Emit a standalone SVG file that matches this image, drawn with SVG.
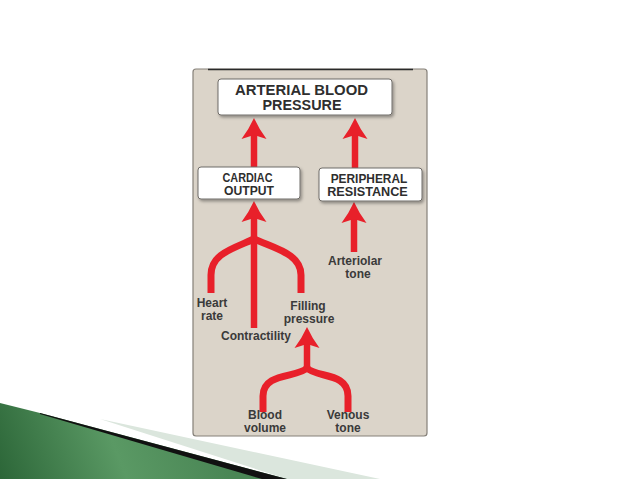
<svg xmlns="http://www.w3.org/2000/svg" width="638" height="479" viewBox="0 0 638 479">
<defs>
<style>
.box{fill:#ffffff;stroke:#6f6c68;stroke-width:1;filter:url(#sh)}
.bt{font-family:"Liberation Sans",Arial,sans-serif;font-weight:bold;fill:#2e2e2e;text-anchor:middle}
.lb{font-family:"Liberation Sans",Arial,sans-serif;font-weight:bold;font-size:12px;fill:#3a3a3a;text-anchor:middle}
.sh{stroke:#e8202a;stroke-width:6.5;fill:none}
.br{stroke:#e8202a;stroke-width:7;fill:none}
</style>
<filter id="sh" x="-10%" y="-20%" width="130%" height="160%">
<feDropShadow dx="1.5" dy="2" stdDeviation="1.5" flood-color="#000" flood-opacity="0.35"/>
</filter>
<marker id="ah" markerUnits="userSpaceOnUse" markerWidth="21" markerHeight="26" viewBox="0 -13 21 26" refX="4" refY="0" orient="auto">
<path d="M21,0 Q10,-5 0,-12.5 L4,0 L0,12.5 Q10,5 21,0Z" fill="#e8202a"/>
</marker>
<linearGradient id="gr" x1="0" y1="479" x2="200" y2="400" gradientUnits="userSpaceOnUse">
<stop offset="0" stop-color="#2c6638"/>
<stop offset="0.55" stop-color="#5a9964"/>
<stop offset="1" stop-color="#4a8655"/>
</linearGradient>
</defs>
<rect width="638" height="479" fill="#ffffff"/>
<g id="decoration">
<polygon points="100,419 380,479 287,479" fill="#dbe6dd"/>
<polygon points="0,403 40,413 287,479 0,479" fill="url(#gr)"/>
<polygon points="40,413 287,479 262,479 40,414" fill="#111111"/>
</g>
<g id="panel">
<rect x="193" y="69" width="234" height="367" rx="3" fill="#dbd4c9" stroke="#858079" stroke-width="1.2"/>
<line x1="208" y1="69.5" x2="413" y2="69.5" stroke="#2a2a2a" stroke-width="1.6"/>
</g>
<g id="connectors">
<line class="sh" x1="254" y1="167" x2="254" y2="135" marker-end="url(#ah)"/>
<line class="sh" x1="355" y1="168" x2="355" y2="135" marker-end="url(#ah)"/>
<line class="sh" x1="254" y1="328" x2="254" y2="218" marker-end="url(#ah)"/>
<path class="br" d="M254,239 C232,249 211,254 211,275 V293"/>
<path class="br" d="M254,239 C276,249 301,254 301,275 V293"/>
<line class="sh" x1="354" y1="252" x2="354" y2="219" marker-end="url(#ah)"/>
<line class="sh" x1="307" y1="372" x2="307" y2="344" marker-end="url(#ah)"/>
<path class="br" d="M307,368 C298,378 263,372 263,396 V412"/>
<path class="br" d="M307,368 C316,378 348,372 348,396 V412"/>
</g>
<g id="arterial-blood-pressure">
<rect class="box" x="218" y="79" width="174" height="36" rx="3"/>
<text class="bt" font-size="14.5" x="301.5" y="94.5" textLength="133" lengthAdjust="spacingAndGlyphs">ARTERIAL BLOOD</text>
<text class="bt" font-size="14.5" x="302" y="110" textLength="79" lengthAdjust="spacingAndGlyphs">PRESSURE</text>
</g>
<g id="cardiac-output">
<rect class="box" x="198" y="167" width="102" height="32" rx="3"/>
<text class="bt" font-size="12" x="247.5" y="181.5" textLength="50" lengthAdjust="spacingAndGlyphs">CARDIAC</text>
<text class="bt" font-size="12" x="249" y="194.5" textLength="50" lengthAdjust="spacingAndGlyphs">OUTPUT</text>
</g>
<g id="peripheral-resistance">
<rect class="box" x="319" y="168" width="103" height="33" rx="3"/>
<text class="bt" font-size="12" x="369" y="183" textLength="76.6" lengthAdjust="spacingAndGlyphs">PERIPHERAL</text>
<text class="bt" font-size="12" x="367.5" y="196" textLength="80.6" lengthAdjust="spacingAndGlyphs">RESISTANCE</text>
</g>
<g id="heart-rate">
<text class="lb" x="212" y="307">Heart</text>
<text class="lb" x="212" y="320">rate</text>
</g>
<g id="contractility">
<text class="lb" x="256" y="340">Contractility</text>
</g>
<g id="filling-pressure">
<text class="lb" x="308" y="310">Filling</text>
<text class="lb" x="309" y="323">pressure</text>
</g>
<g id="arteriolar-tone">
<text class="lb" x="355" y="265">Arteriolar</text>
<text class="lb" x="358" y="278">tone</text>
</g>
<g id="blood-volume">
<text class="lb" x="265" y="419">Blood</text>
<text class="lb" x="265" y="432">volume</text>
</g>
<g id="venous-tone">
<text class="lb" x="348" y="419">Venous</text>
<text class="lb" x="348" y="432">tone</text>
</g>
</svg>
